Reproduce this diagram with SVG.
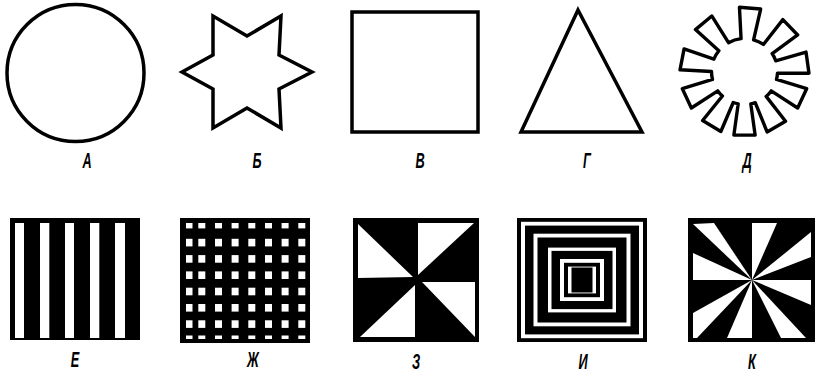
<svg xmlns="http://www.w3.org/2000/svg" width="816" height="376" viewBox="0 0 816 376">
<style>
.o{fill:none;stroke:#000;stroke-width:3.5;stroke-linejoin:miter}
.g{fill:none;stroke:#000;stroke-width:3.4;stroke-linejoin:round}
.b{fill:#000}
.w{fill:#fff}
.lb{font-family:"Liberation Sans",Arial,sans-serif;font-style:italic;font-weight:bold;font-size:22px;text-anchor:middle;fill:#000}
</style>
<defs>
<clipPath id="zhclip"><rect x="186" y="223" width="120" height="116"/></clipPath>
<g id="zhrow">
<rect x="185.5" y="0" width="7" height="7.6"/>
<rect x="198.3" y="0" width="7" height="7.6"/>
<rect x="215" y="0" width="7" height="7.6"/>
<rect x="231.6" y="0" width="7" height="7.6"/>
<rect x="248.3" y="0" width="7" height="7.6"/>
<rect x="265" y="0" width="7" height="7.6"/>
<rect x="281.6" y="0" width="7" height="7.6"/>
<rect x="298.3" y="0" width="7" height="7.6"/>
</g>
</defs>
<rect width="816" height="376" fill="#fff"/>

<g id="A">
<circle class="o" cx="75.5" cy="73" r="68.5"/>
<text class="lb" transform="translate(87,168) scale(0.58,1)">А</text>
</g>

<g id="B">
<path class="o" d="M182,72 L213,55 L213,16 L247,36 L281,16 L279,55 L312,72 L279,89 L281,128 L247,108 L213,128 L213,89 Z"/>
<text class="lb" transform="translate(257,168) scale(0.58,1)">Б</text>
</g>

<g id="V">
<rect class="o" x="352" y="12" width="126" height="120"/>
<text class="lb" transform="translate(420,168) scale(0.58,1)">В</text>
</g>

<g id="G">
<path class="o" d="M578,10 L642,132 L521,132 Z"/>
<text class="lb" transform="translate(587,168) scale(0.58,1)">Г</text>
</g>

<g id="D">
<path class="g" d="M741.05,38.68 L739.44,7.20 L760.65,9.06 L753.59,39.78 A33,33 0 0 1 763.43,44.47 L782.86,19.65 L797.65,34.97 L772.18,53.53 A33,33 0 0 1 775.70,60.76 L806.01,52.10 L808.98,73.19 L777.45,73.23 A33,33 0 0 1 776.52,79.48 L806.65,88.74 L797.65,108.03 L771.20,90.90 A33,33 0 0 1 766.15,96.41 L785.53,121.27 L767.09,131.92 L755.24,102.70 A33,33 0 0 1 750.80,103.89 L755.14,135.12 L733.86,135.12 L738.20,103.89 A33,33 0 0 1 733.21,102.51 L720.86,131.51 L702.61,120.55 L722.42,96.02 A33,33 0 0 1 717.80,90.90 L691.35,108.03 L682.35,88.74 L712.48,79.48 A33,33 0 0 1 711.50,71.50 L680.02,69.81 L684.08,48.91 L713.90,59.14 A33,33 0 0 1 718.86,50.73 L695.45,29.61 L711.77,15.93 L728.50,42.64 A33,33 0 0 1 741.05,38.68 Z"/>
<text class="lb" transform="translate(747,168) scale(0.58,1)">Д</text>
</g>

<g id="E">
<rect class="b" x="10" y="218" width="130" height="122"/>
<rect class="w" x="15" y="223" width="9" height="115"/>
<rect class="w" x="40" y="223" width="9.3" height="115"/>
<rect class="w" x="65" y="223" width="9" height="115"/>
<rect class="w" x="90" y="223" width="9.3" height="115"/>
<rect class="w" x="115" y="223" width="10" height="115"/>
<text class="lb" transform="translate(75,367) scale(0.58,1)">Е</text>
</g>

<g id="Zh">
<rect class="b" x="180" y="218" width="130" height="125"/>
<g class="w" clip-path="url(#zhclip)">
<use href="#zhrow" y="220.8"/>
<use href="#zhrow" y="238.8"/>
<use href="#zhrow" y="255.1"/>
<use href="#zhrow" y="271.4"/>
<use href="#zhrow" y="287.7"/>
<use href="#zhrow" y="304"/>
<use href="#zhrow" y="320.3"/>
<use href="#zhrow" y="335.5"/>
</g>
<text class="lb" transform="translate(253,367) scale(0.58,1)">Ж</text>
</g>

<g id="Z">
<rect class="b" x="353" y="218" width="126" height="124"/>
<polygon class="w" points="358,224 413,277 358,278"/>
<polygon class="w" points="418,223 474,223 418,275"/>
<polygon class="w" points="422,282 475,282 475,337"/>
<polygon class="w" points="415,285 415,337 360,337"/>
<text class="lb" transform="translate(416,369) scale(0.58,1)">З</text>
</g>

<g id="I">
<rect class="b" x="517" y="218" width="130" height="124"/>
<rect class="w" x="521" y="221.8" width="122" height="116.4"/>
<rect class="b" x="525" y="225.6" width="114" height="108.8"/>
<rect class="w" x="533.5" y="233.7" width="97" height="92.6"/>
<rect class="b" x="537.5" y="237.5" width="89" height="85"/>
<rect class="w" x="548" y="247.6" width="68" height="64.8"/>
<rect class="b" x="551.5" y="250.9" width="61" height="58.2"/>
<rect class="w" x="560" y="259" width="44" height="42"/>
<rect class="b" x="564" y="262.8" width="36" height="34.4"/>
<rect class="w" x="568" y="266.6" width="28" height="26.8"/>
<rect class="b" x="571.5" y="267.5" width="21" height="25"/>
<text class="lb" transform="translate(583,369) scale(0.58,1)">И</text>
</g>

<g id="K">
<rect class="b" x="688" y="218" width="127" height="124"/>
<polygon class="w" points="752,280 693,224 714,223"/>
<polygon class="w" points="752,280 752,223 777,223"/>
<polygon class="w" points="752,280 811,232 811,257"/>
<polygon class="w" points="752,280 811,280 811,305"/>
<polygon class="w" points="752,280 806,338 781,338"/>
<polygon class="w" points="752,280 752,338 727,338"/>
<polygon class="w" points="752,280 693,313 693,338 697,338"/>
<polygon class="w" points="752,280 693,280 693,253"/>
<text class="lb" transform="translate(752,369) scale(0.58,1)">К</text>
</g>
</svg>
